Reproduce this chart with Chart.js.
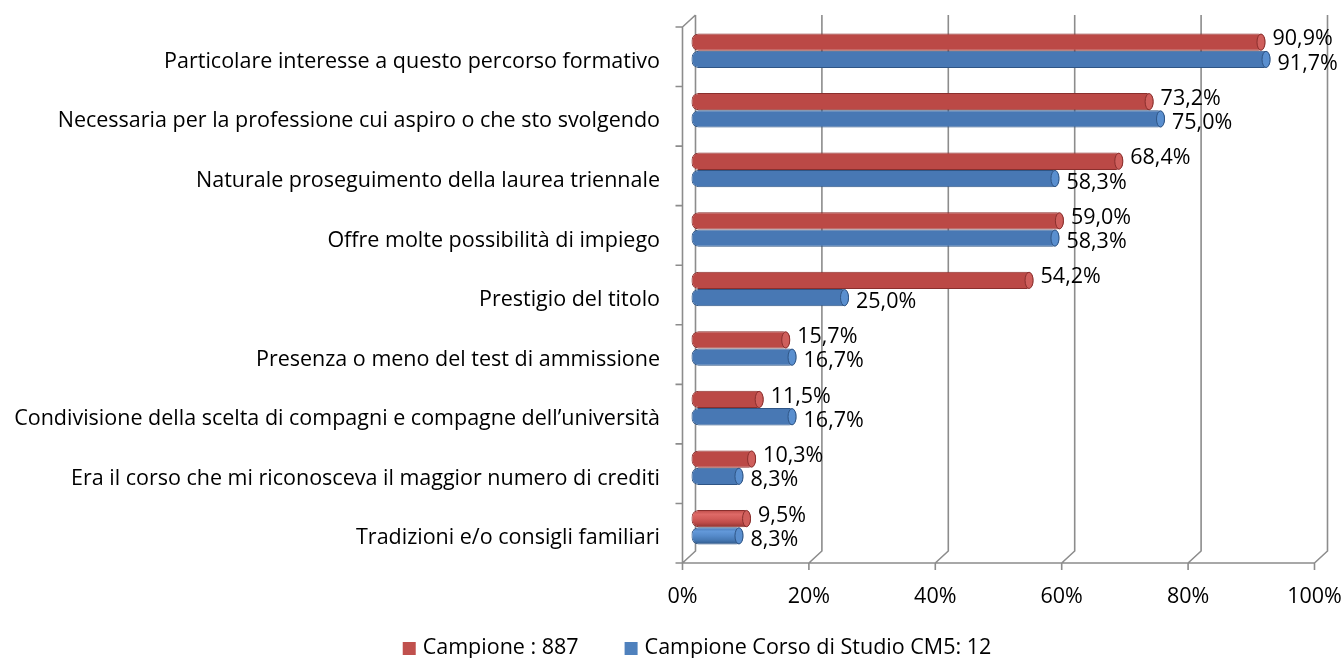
<!DOCTYPE html>
<html>
<head>
<meta charset="utf-8">
<script src="https://cdn.jsdelivr.net/npm/chart.js@4.4.0/dist/chart.umd.min.js"></script>
<style>
  html, body { margin: 0; padding: 0; background: #fff; }
  #wrap { width: 1344px; height: 658px; }
</style>
</head>
<body>
<div id="wrap"><canvas id="myBarChart" width="1344" height="658"></canvas></div>
<script>
// Data
const categories = [
  'Particolare interesse a questo percorso formativo',
  'Necessaria per la professione cui aspiro o che sto svolgendo',
  'Naturale proseguimento della laurea triennale',
  'Offre molte possibilità di impiego',
  'Prestigio del titolo',
  'Presenza o meno del test di ammissione',
  'Condivisione della scelta di compagni e compagne dell’università',
  'Era il corso che mi riconosceva il maggior numero di crediti',
  'Tradizioni e/o consigli familiari'
];
const campione = [90.9, 73.2, 68.4, 59.0, 54.2, 15.7, 11.5, 10.3, 9.5];
const corsoCM5 = [91.7, 75.0, 58.3, 58.3, 25.0, 16.7, 16.7, 8.3, 8.3];
const seriesNames = ['Campione : 887', 'Campione Corso di Studio CM5: 12'];
const xTicks = [0, 20, 40, 60, 80, 100];

const FONT = '"Open Sans", Lato, sans-serif';
const FSIZE = 21.5;
// fake 3d box: front plane is left/down of the bars, back wall right/up
const FX = 8.5, BX = 4.5, DY = 6;

// cylinder shading, top to bottom
const redStops = ['#bb4946', '#de6a67', '#d25c59', '#bd4b48', '#8c3230'];
const blueStops = ['#4878b4', '#6298d9', '#558aca', '#4678b3', '#2e5788'];
const capColors = ['#cf5f5c', '#5a8fcf'];

function fmt(v) {
  return v.toFixed(1).replace('.', ',') + '%';
}

// invisible tick marks, only used to push the labels away from the axis
const hidden = { color: 'rgba(0,0,0,0)', drawOnChartArea: false, drawTicks: true };

const wallPlugin = {
  id: 'wall3d',
  // back wall gridlines, floor edge and left wall
  beforeDatasetsDraw(chart) {
    const { ctx, chartArea: a, scales: { x } } = chart;
    ctx.save();
    ctx.strokeStyle = '#8c8c8c';
    ctx.lineWidth = 1.6;
    ctx.beginPath();
    xTicks.forEach(t => {
      const px = x.getPixelForValue(t);
      ctx.moveTo(px + BX, a.top - DY);
      ctx.lineTo(px + BX, a.bottom - DY);
      ctx.lineTo(px - FX, a.bottom + DY);
      ctx.lineTo(px - FX, a.bottom + DY + 7);
    });
    const x0 = x.getPixelForValue(0) - FX;
    const x1 = x.getPixelForValue(100) - FX;
    ctx.moveTo(x0, a.bottom + DY);
    ctx.lineTo(x1, a.bottom + DY);
    ctx.moveTo(x0 + FX + BX, a.top - DY);
    ctx.lineTo(x0, a.top + DY);
    ctx.lineTo(x0, a.bottom + DY);
    for (let i = 0; i <= categories.length; i++) {
      const py = a.top + DY + i * (a.height / categories.length);
      ctx.moveTo(x0 - 7, py);
      ctx.lineTo(x0, py);
    }
    ctx.stroke();
    ctx.restore();
  },
  beforeDatasetDraw(chart, args) {
    const ctx = chart.ctx;
    const stops = args.index === 0 ? redStops : blueStops;
    args.meta.data.forEach(bar => {
      const top = bar.y - bar.height / 2;
      const g = ctx.createLinearGradient(0, top, 0, top + bar.height);
      stops.forEach((c, i) => g.addColorStop(i / (stops.length - 1), c));
      bar.options.backgroundColor = g;
    });
  },
  // end cap of each cylinder
  afterDatasetDraw(chart, args) {
    const ctx = chart.ctx;
    ctx.save();
    args.meta.data.forEach(bar => {
      const r = bar.height / 2;
      ctx.beginPath();
      ctx.ellipse(bar.x - 4.5, bar.y, 4, r - 0.5, 0, 0, Math.PI * 2);
      ctx.fillStyle = capColors[args.index];
      ctx.fill();
      ctx.lineWidth = 1;
      ctx.strokeStyle = args.index === 0 ? '#8a2f2d' : '#2f5585';
      ctx.stroke();
    });
    ctx.restore();
  },
  // value labels next to the bar ends
  afterDatasetsDraw(chart) {
    const ctx = chart.ctx;
    ctx.save();
    ctx.font = FSIZE + 'px ' + FONT;
    ctx.fillStyle = '#000';
    ctx.textAlign = 'left';
    ctx.textBaseline = 'middle';
    chart.data.datasets.forEach((ds, di) => {
      chart.getDatasetMeta(di).data.forEach((bar, i) => {
        const dy = di === 0 ? -3 : 4;
        ctx.fillText(fmt(ds.data[i]), bar.x + 7, bar.y + dy);
      });
    });
    ctx.restore();
  },
  // legend row at the bottom
  afterDraw(chart) {
    const ctx = chart.ctx;
    ctx.save();
    ctx.font = FSIZE + 'px ' + FONT;
    ctx.textAlign = 'left';
    ctx.textBaseline = 'middle';
    const widths = seriesNames.map(n => ctx.measureText(n).width);
    const total = widths.reduce((s, w) => s + 20 + w, 0) + 46;
    let lx = 697 - total / 2;
    const ly = 648;
    seriesNames.forEach((name, i) => {
      ctx.fillStyle = chart.data.datasets[i].backgroundColor;
      ctx.fillRect(lx, ly - 6, 13, 13);
      ctx.fillStyle = '#000';
      ctx.fillText(name, lx + 20, ly);
      lx += 20 + widths[i] + 46;
    });
    ctx.restore();
  }
};

const ctx = document.getElementById('myBarChart');

new Chart(ctx, {
  type: 'bar',
  data: {
    labels: categories,
    datasets: [{
      label: seriesNames[0],
      data: campione,
      backgroundColor: '#C0504D',
      borderColor: '#8a2f2d',
      borderWidth: 1,
      borderRadius: 7,
      borderSkipped: false,
      categoryPercentage: 0.58,
      barPercentage: 1
    }, {
      label: seriesNames[1],
      data: corsoCM5,
      backgroundColor: '#4F81BD',
      borderColor: '#2f5585',
      borderWidth: 1,
      borderRadius: 7,
      borderSkipped: false,
      categoryPercentage: 0.58,
      barPercentage: 1
    }]
  },
  options: {
    indexAxis: 'y',
    responsive: false,
    animation: false,
    layout: {
      padding: { top: 21, right: 21, left: 0, bottom: 0 }
    },
    scales: {
      x: {
        min: 0,
        max: 100,
        grid: Object.assign({ tickLength: 27 }, hidden),
        border: { display: false },
        ticks: {
          stepSize: 20,
          padding: 0,
          labelOffset: -FX,
          color: '#000',
          font: { family: FONT, size: FSIZE },
          callback: v => v + '%'
        },
        afterFit: scale => {
          scale.height = 101;
          scale.paddingLeft = 0;
          scale.paddingRight = 0;
        }
      },
      y: {
        grid: Object.assign({ tickLength: 27 }, hidden),
        border: { display: false },
        ticks: {
          padding: 4,
          labelOffset: 11,
          color: '#000',
          font: { family: FONT, size: FSIZE }
        },
        afterFit: scale => { scale.width = 691; }
      }
    },
    plugins: {
      tooltip: { enabled: false },
      legend: { display: false }
    }
  },
  plugins: [wallPlugin]
});
</script>
</body>
</html>
